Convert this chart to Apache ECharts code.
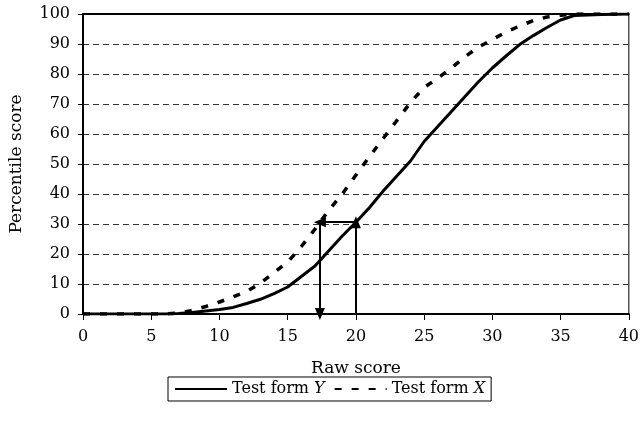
<!DOCTYPE html>
<html>
<head>
<meta charset="utf-8">
<script src="https://cdn.jsdelivr.net/npm/echarts@6/dist/echarts.min.js"></script>
<style>
  html, body { margin: 0; padding: 0; background: #fff; }
  #chart { width: 642px; height: 422px; }
</style>
</head>
<body>
<div id="chart"></div>
<script>
// Raw scores 0..40
const rawScores = [0,1,2,3,4,5,6,7,8,9,10,11,12,13,14,15,16,17,18,19,20,21,22,23,24,25,26,27,28,29,30,31,32,33,34,35,36,37,38,39,40];

// Percentile rank at each raw score, form Y (solid)
const formY = [0,0,0,0,0,0,0,0.2,0.5,1,1.5,2.2,3.5,4.9,6.8,9,12.5,16,21,26,30.6,35.5,41,46,51,57.5,62.5,67.5,72.5,77.5,82,86,89.8,92.8,95.5,98,99.5,99.7,99.8,99.9,100];

// Percentile rank at each raw score, form X (dashed)
const formX = [0,0,0,0,0,0,0,0.3,1.2,2.5,4,5.7,7.5,10.3,13.8,17.3,22.5,28.3,34.5,40,46.3,52.5,58.5,64.5,70.5,75.5,78.6,82,85.8,89,91.5,94,96,97.8,99,99.6,100,100,100,100,100];

// Equipercentile lookup: raw 20 on Y maps to raw ~17.36 on X at the same percentile
const lookupRawY = 20;
const lookupRawX = 17.36;
const lookupPct = 30.6;

const xTicks = { min: 0, max: 40, interval: 5 };
const yTicks = { min: 0, max: 100, interval: 10 };

const FONT = 'DejaVu Serif';

const chart = echarts.init(document.getElementById('chart'), null, { renderer: 'canvas' });

const toPairs = (ys) => rawScores.map((x, i) => [x, ys[i]]);

const arrowStyle = { color: '#000', width: 2, type: 'solid' };

chart.setOption({
  animation: false,
  backgroundColor: '#fff',
  textStyle: { fontFamily: FONT, color: '#000' },
  grid: {
    left: 82, right: 10, top: 14, bottom: 108,
    show: true, borderColor: '#000', borderWidth: 1, backgroundColor: 'transparent'
  },
  xAxis: [{
    type: 'value',
    min: xTicks.min, max: xTicks.max, interval: xTicks.interval,
    name: 'Raw score',
    nameLocation: 'middle',
    nameGap: 46,
    nameTextStyle: { fontFamily: FONT, fontSize: 17, color: '#000' },
    axisLine: { show: true, lineStyle: { color: '#000', width: 2 } },
    axisTick: { show: true, inside: false, length: 6, lineStyle: { color: '#000' } },
    axisLabel: { fontFamily: FONT, fontSize: 16, color: '#000', margin: 15 },
    splitLine: { show: false }
  }, {
    // plain top frame edge
    type: 'value',
    position: 'top',
    min: xTicks.min, max: xTicks.max,
    axisLine: { show: true, lineStyle: { color: '#000', width: 2 } },
    axisTick: { show: false },
    axisLabel: { show: false },
    splitLine: { show: false }
  }],
  yAxis: {
    type: 'value',
    min: yTicks.min, max: yTicks.max, interval: yTicks.interval,
    name: 'Percentile score',
    nameLocation: 'middle',
    nameGap: 58,
    nameTextStyle: { fontFamily: FONT, fontSize: 17, color: '#000' },
    axisLine: { show: true, lineStyle: { color: '#000', width: 2 } },
    axisTick: { show: true, inside: false, length: 5, lineStyle: { color: '#000' } },
    axisLabel: { fontFamily: FONT, fontSize: 16, color: '#000', margin: 13 },
    splitLine: { show: true, lineStyle: { color: '#333', width: 1, type: [6, 4] } }
  },
  legend: {
    left: 168,
    top: 377,
    itemWidth: 52,
    itemHeight: 12,
    itemGap: 9,
    padding: [4, 6, 4, 6],
    borderColor: '#000',
    borderWidth: 1,
    borderRadius: 0,
    itemStyle: { color: 'transparent', borderWidth: 0, opacity: 0 },
    textStyle: {
      fontFamily: FONT, fontSize: 16, color: '#000',
      rich: {
        n: { fontFamily: FONT, fontSize: 16, color: '#000' },
        i: { fontFamily: FONT, fontSize: 16, fontStyle: 'italic', color: '#000' }
      }
    },
    formatter: (name) => {
      const parts = name.split(' ');
      const last = parts.pop();
      return '{n|' + parts.join(' ') + ' }{i|' + last + '}';
    },
    data: ['Test form Y', 'Test form X']
  },
  series: [
    {
      name: 'Test form Y',
      type: 'line',
      data: toPairs(formY),
      symbol: 'none',
      smooth: false,
      lineStyle: { color: '#000', width: 3, type: 'solid' },
      itemStyle: { color: '#000' },
      z: 3
    },
    {
      name: 'Test form X',
      type: 'line',
      data: toPairs(formX),
      symbol: 'none',
      smooth: false,
      lineStyle: { color: '#000', width: 3.5, type: [7, 10] },
      itemStyle: { color: '#000' },
      z: 3
    },
    {
      name: 'lookup',
      type: 'line',
      data: [],
      silent: true,
      markLine: {
        silent: true,
        animation: false,
        symbol: ['none', 'triangle'],
        symbolSize: [10, 12],
        label: { show: false },
        lineStyle: arrowStyle,
        emphasis: { disabled: true },
        data: [
          [{ coord: [lookupRawY, 0] }, { coord: [lookupRawY, lookupPct] }],
          [{ coord: [lookupRawY, lookupPct] }, { coord: [lookupRawX, lookupPct] }],
          [{ coord: [lookupRawX, lookupPct] }, { coord: [lookupRawX, 0] }]
        ]
      },
      z: 4
    }
  ]
});
</script>
</body>
</html>
